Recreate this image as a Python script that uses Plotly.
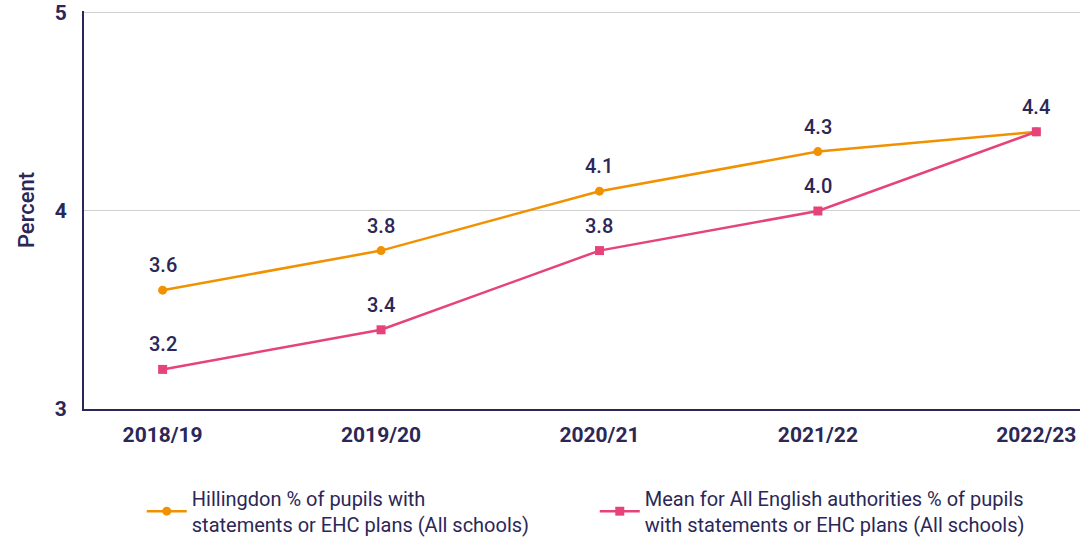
import plotly.graph_objects as go

years = ["2018/19", "2019/20", "2020/21", "2021/22", "2022/23"]
hillingdon = [3.6, 3.8, 4.1, 4.3, 4.4]
england = [3.2, 3.4, 3.8, 4.0, 4.4]
hill_labels = ["3.6", "3.8", "4.1", "4.3", "4.4"]
eng_labels = ["3.2", "3.4", "3.8", "4.0", ""]
y_ticks = [3, 4, 5]
hill_name = "Hillingdon % of pupils with<br>statements or EHC plans (All schools)"
eng_name = "Mean for All English authorities % of pupils<br>with statements or EHC plans (All schools)"

NAVY = "#2b2757"
ORANGE = "#f29100"
PINK = "#e5437a"
FONT = "Roboto"

fig = go.Figure()
fig.add_trace(go.Scatter(
    x=years, y=hillingdon, name=hill_name, mode="lines+markers",
    line=dict(color=ORANGE, width=2.5),
    marker=dict(symbol="circle", size=9, color=ORANGE),
))
fig.add_trace(go.Scatter(
    x=years, y=england, name=eng_name, mode="lines+markers",
    line=dict(color=PINK, width=2.5),
    marker=dict(symbol="square", size=9, color=PINK),
))

for xs, ys, labels in [(years, hillingdon, hill_labels), (years, england, eng_labels)]:
    for xv, yv, lab in zip(xs, ys, labels):
        if lab:
            fig.add_annotation(
                x=xv, y=yv, text=lab, showarrow=False, yshift=25,
                font=dict(family=FONT, size=20, color=NAVY, weight=500),
            )

fig.update_layout(
    width=1084, height=538,
    margin=dict(l=84, r=4, t=11, b=129, autoexpand=False),
    plot_bgcolor="white", paper_bgcolor="white",
    font=dict(family=FONT, color=NAVY, size=17),
    showlegend=True,
    legend=dict(
        orientation="h", x=0.058, xanchor="left", y=-0.175, yanchor="top",
        font=dict(family=FONT, size=20, color=NAVY),
        entrywidth=398, entrywidthmode="pixels",
        itemwidth=40, tracegroupgap=0,
    ),
)
fig.update_xaxes(
    type="category", range=[-0.36, 4.2], automargin=False,
    showline=True, linecolor=NAVY, linewidth=2,
    showgrid=False, ticks="", ticklabelstandoff=6,
    tickfont=dict(family=FONT, size=21, color=NAVY, weight="bold"),
)
fig.update_yaxes(
    range=[3, 5.01], tickmode="array", tickvals=y_ticks, ticktext=[str(v) for v in y_ticks],
    automargin=False,
    showline=True, linecolor=NAVY, linewidth=2,
    showgrid=True, gridcolor="#d0d0d0", gridwidth=1,
    zeroline=False, ticks="", ticklabelstandoff=11,
    tickfont=dict(family=FONT, size=21, color=NAVY, weight="bold"),
    title=dict(text="Percent", font=dict(family=FONT, size=22, color=NAVY, weight=500), standoff=14),
)

fig.write_html("out.html", config={"displayModeBar": False},
               post_script="document.body.style.margin='0px';")
